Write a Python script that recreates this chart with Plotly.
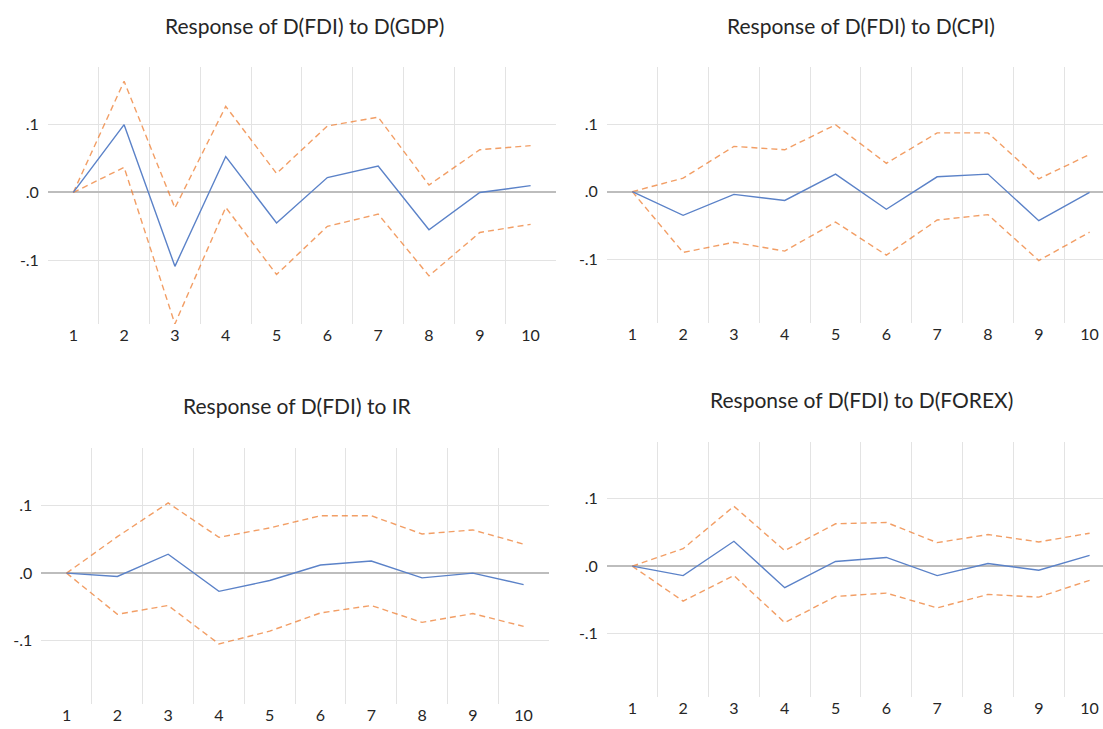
import plotly.graph_objects as go

periods = [1, 2, 3, 4, 5, 6, 7, 8, 9, 10]

titles = [
    "Response of D(FDI) to D(GDP)",
    "Response of D(FDI) to D(CPI)",
    "Response of D(FDI) to IR",
    "Response of D(FDI) to D(FOREX)",
]

gdp_resp = [0.0, 0.100, -0.109, 0.053, -0.045, 0.022, 0.039, -0.055, 0.0, 0.010]
gdp_upper = [0.0, 0.164, -0.023, 0.127, 0.028, 0.098, 0.111, 0.011, 0.063, 0.069]
gdp_lower = [0.0, 0.037, -0.194, -0.022, -0.121, -0.050, -0.032, -0.123, -0.059, -0.047]

cpi_resp = [0.0, -0.035, -0.004, -0.013, 0.026, -0.026, 0.022, 0.026, -0.043, -0.001]
cpi_upper = [0.0, 0.020, 0.067, 0.062, 0.099, 0.042, 0.087, 0.087, 0.019, 0.055]
cpi_lower = [0.0, -0.090, -0.075, -0.088, -0.045, -0.094, -0.042, -0.034, -0.102, -0.060]

ir_resp = [0.0, -0.005, 0.028, -0.027, -0.011, 0.012, 0.018, -0.007, 0.0, -0.017]
ir_upper = [0.0, 0.054, 0.104, 0.053, 0.067, 0.085, 0.085, 0.058, 0.064, 0.043]
ir_lower = [0.0, -0.061, -0.048, -0.105, -0.086, -0.059, -0.048, -0.073, -0.060, -0.079]

forex_resp = [0.0, -0.014, 0.037, -0.032, 0.007, 0.013, -0.014, 0.004, -0.006, 0.016]
forex_upper = [0.0, 0.026, 0.089, 0.023, 0.063, 0.065, 0.035, 0.047, 0.036, 0.049]
forex_lower = [0.0, -0.052, -0.014, -0.084, -0.045, -0.040, -0.062, -0.042, -0.046, -0.021]

y_tickvals = [-0.1, 0.0, 0.1]
y_ticktext = ["-.1", ".0", ".1"]

panels = [
    (gdp_resp, gdp_upper, gdp_lower),
    (cpi_resp, cpi_upper, cpi_lower),
    (ir_resp, ir_upper, ir_lower),
    (forex_resp, forex_upper, forex_lower),
]

W, H = 1103, 729
# pixel boxes: (left, right, top, bottom, xmax, title_x, title_y)
boxes = [
    (47.9, 556.0, 67.0, 324.0, 10.5, 304, 26),
    (606.9, 1103.0, 66.7, 322.7, 10.264, 861, 26),
    (41.2, 549.0, 448.3, 704.0, 10.5, 297, 405),
    (606.9, 1103.0, 441.7, 696.7, 10.264, 861, 399),
]

BLUE = "#5B82C8"
ORANGE = "rgba(237,125,49,0.75)"
FONT = "Lato"
TXT = "#262626"

fig = go.Figure()
layout = dict(
    width=W, height=H,
    margin=dict(l=0, r=0, t=0, b=0),
    paper_bgcolor="white", plot_bgcolor="white",
    showlegend=False,
    font=dict(family=FONT, color=TXT, size=16),
    annotations=[],
)

for i, ((resp, up, lo), (l, r, t, b, xmax, tx, ty)) in enumerate(zip(panels, boxes)):
    n = "" if i == 0 else str(i + 1)
    xa, ya = "x" + n, "y" + n
    for vals, color, dash in [(up, ORANGE, "6px,4px"), (lo, ORANGE, "6px,4px"), (resp, BLUE, "solid")]:
        fig.add_trace(go.Scatter(
            x=periods, y=vals, mode="lines",
            line=dict(color=color, width=1.4, dash=dash),
            xaxis=xa, yaxis=ya, hoverinfo="skip", cliponaxis=True,
        ))
    layout["xaxis" + n] = dict(
        domain=[l / W, r / W], anchor=ya, range=[0.5, xmax],
        tickvals=periods, ticktext=[str(p) for p in periods],
        showgrid=False, zeroline=False, showline=False, ticks="",
        ticklabeloverflow="allow",
        tickfont=dict(family=FONT, size=16, color=TXT),
        minor=dict(tickvals=[p + 0.5 for p in periods[:-1]], showgrid=True,
                   gridcolor="#E3E3E3", gridwidth=1, ticks=""),
        fixedrange=True,
    )
    layout["yaxis" + n] = dict(
        domain=[(H - b) / H, (H - t) / H], anchor=xa, range=[-0.194, 0.185],
        tickvals=y_tickvals, ticktext=y_ticktext,
        showgrid=True, gridcolor="#E3E3E3", gridwidth=1,
        zeroline=True, zerolinecolor="#BDBDBD", zerolinewidth=1.5,
        showline=False, ticks="", ticklabelstandoff=8,
        tickfont=dict(family=FONT, size=16, color=TXT),
        fixedrange=True,
    )
    layout["annotations"].append(dict(
        text=titles[i], xref="paper", yref="paper",
        x=tx / W, y=(H - ty) / H, xanchor="center", yanchor="middle",
        showarrow=False, font=dict(family=FONT, size=21, color=TXT),
    ))

fig.update_layout(**layout)
fig.write_html("out.html", config={"displayModeBar": False},
               post_script="document.body.style.margin='0';")
